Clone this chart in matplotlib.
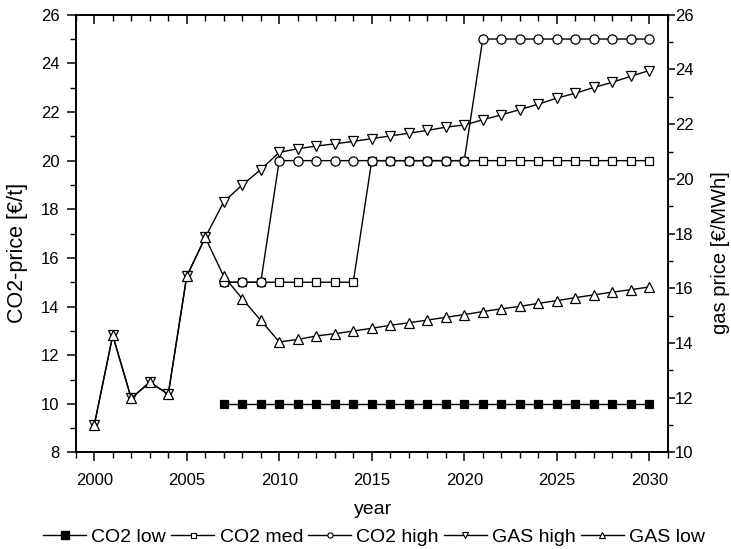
import matplotlib
matplotlib.use("Agg")
import matplotlib.pyplot as plt
from matplotlib.lines import Line2D, TICKDOWN
from matplotlib.ticker import MultipleLocator

plt.rcParams['font.family'] = ['Liberation Sans', 'DejaVu Sans']
plt.rcParams['font.size'] = 12

# === DATA ===
years_hist = [2000, 2001, 2002, 2003, 2004, 2005, 2006]
years_scen = list(range(2007, 2031))

gas_hist = [11.0, 14.28, 11.98, 12.57, 12.13, 16.44, 17.86]

gas_high_scen = [19.16, 19.78, 20.34, 20.97, 21.10, 21.20, 21.28, 21.37, 21.47, 21.57,
                 21.67, 21.77, 21.89, 21.97, 22.16, 22.34, 22.53, 22.73, 22.95, 23.13,
                 23.34, 23.53, 23.75, 23.96]
gas_low_scen = [16.44, 15.62, 14.83, 14.04, 14.13, 14.26, 14.34, 14.44, 14.54, 14.65,
                14.74, 14.84, 14.94, 15.04, 15.15, 15.25, 15.34, 15.45, 15.55, 15.66,
                15.76, 15.86, 15.95, 16.05]

co2_low = [10] * 24
co2_med = [15] * 8 + [20] * 16
co2_high = [15] * 3 + [20] * 11 + [25] * 10

labels = ['CO2 low', 'CO2 med', 'CO2 high', 'GAS high', 'GAS low']

gas_years = years_hist + years_scen
gas_high = gas_hist + gas_high_scen
gas_low = gas_hist + gas_low_scen

fig = plt.figure(figsize=(7.31, 5.49), dpi=100)
ax = fig.add_axes([0.1036, 0.1758, 0.8099, 0.7974])
ax2 = ax.twinx()

base = dict(color='black', lw=1.0, mec='black', mew=0.9)

ax.plot(years_scen, co2_low, marker='s', ms=6.3, mfc='black', **base)
ax.plot(years_scen, co2_med, marker='s', ms=5.4, mfc='white', **base)
ax.plot(years_scen, co2_high, marker='o', ms=6.6, mfc='white', **base)
ax2.plot(gas_years, gas_high, marker='v', ms=7.4, mfc='white', **base)
ax2.plot(gas_years, gas_low, marker='^', ms=7.4, mfc='white', **base)

ax.set_xlim(1999, 2031)
ax.set_ylim(8, 26)
ax2.set_ylim(10, 26)

ax.xaxis.set_major_locator(MultipleLocator(5))
ax.xaxis.set_minor_locator(MultipleLocator(1))
for a in (ax, ax2):
    a.yaxis.set_major_locator(MultipleLocator(2))
    a.yaxis.set_minor_locator(MultipleLocator(1))
    for s in a.spines.values():
        s.set_linewidth(1.2)

ax.tick_params(axis='x', which='both', direction='out', top=True, labeltop=False, pad=8)
ax.tick_params(axis='y', which='both', direction='out', left=True, right=False, pad=5)
ax.tick_params(which='major', length=6.7, width=1.1, labelsize=12)
ax.tick_params(which='minor', length=4, width=1.0)
ax2.tick_params(axis='y', which='both', direction='out', labelsize=12, pad=0.5)
ax2.tick_params(axis='y', which='major', length=4.8, width=1.1)
ax2.tick_params(axis='y', which='minor', length=3.4, width=1.0)

# top ticks point into the plot
for t in ax.xaxis.get_major_ticks() + ax.xaxis.get_minor_ticks():
    t.tick2line.set_marker(TICKDOWN)

ax.set_xlabel('year', fontsize=14)
ax.xaxis.set_label_coords(0.502, -0.110)
ax.set_ylabel('CO2-price [€/t]', fontsize=15.5)
ax.yaxis.set_label_coords(-0.080, 0.456)
ax2.set_ylabel('gas price [€/MWh]', fontsize=14.5, rotation=90)
ax2.yaxis.set_label_coords(1.0725, 0.456)

# legend keys with their own (smaller) marker sizes
handles = [
    Line2D([], [], color='black', lw=1.0, marker='s', ms=6.3, mfc='black', mec='black'),
    Line2D([], [], color='black', lw=1.0, marker='s', ms=3.6, mfc='white', mec='black', mew=0.8),
    Line2D([], [], color='black', lw=1.0, marker='o', ms=3.8, mfc='white', mec='black', mew=0.8),
    Line2D([], [], color='black', lw=1.0, marker='v', ms=5.0, mfc='white', mec='black', mew=0.8),
    Line2D([], [], color='black', lw=1.0, marker='^', ms=5.0, mfc='white', mec='black', mew=0.8),
]
fig.legend(handles, labels, loc='center', bbox_to_anchor=(0.512, 0.022),
           ncol=5, frameon=False, handlelength=2.2, handletextpad=0.27,
           columnspacing=0.27, fontsize=14, borderpad=0, borderaxespad=0)

fig.savefig('out.png', dpi=100)
